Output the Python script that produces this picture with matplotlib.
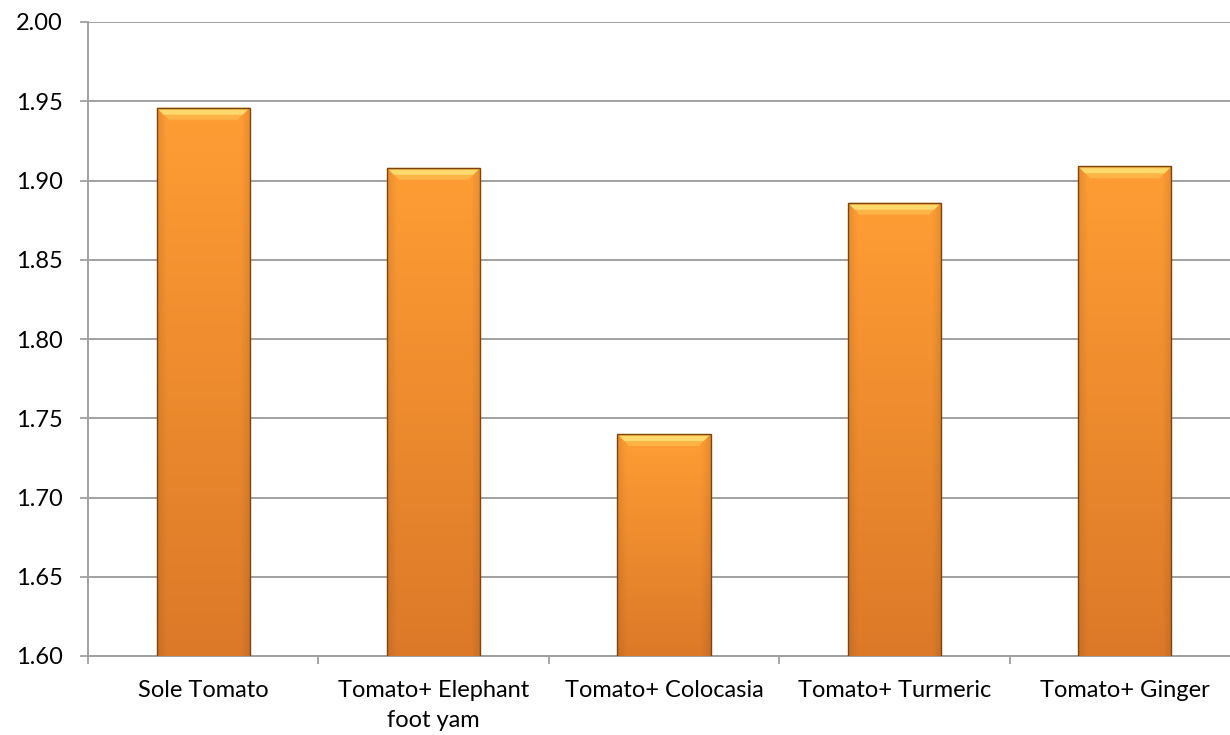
import matplotlib.pyplot as plt
import numpy as np
from matplotlib.patches import Polygon

# values
categories = ["Sole Tomato", "Tomato+ Elephant\nfoot yam", "Tomato+ Colocasia",
              "Tomato+ Turmeric", "Tomato+ Ginger"]
values = [1.946, 1.908, 1.740, 1.886, 1.909]
y_ticks = [1.60, 1.65, 1.70, 1.75, 1.80, 1.85, 1.90, 1.95, 2.00]

plt.rcParams['font.family'] = ['Lato', 'DejaVu Sans']

fig = plt.figure(figsize=(12.3, 7.35), dpi=100)
ax = fig.add_axes([88/1230, 79/735, 1152/1230, 634/735])

x = np.arange(len(categories))
bar_w = 0.405
bars = ax.bar(x, values, width=bar_w, color='none', edgecolor='#7a4412',
              linewidth=1.0, zorder=4)
ax.set_xlim(-0.5, len(categories) - 0.5)
ax.set_ylim(y_ticks[0], y_ticks[-1])

# orange gradient fill for each bar
top_c = np.array([1.0, 0.615, 0.205])
bot_c = np.array([0.86, 0.475, 0.16])
rows, cols = 200, 60
t = np.linspace(0, 1, rows)[:, None, None]
grad = top_c * (1 - t) + bot_c * t
u = np.linspace(-1, 1, cols)[None, :, None]
shade = 1 - 0.09 * np.clip((np.abs(u) - 0.8) / 0.2, 0, 1)
img = np.clip(grad * shade, 0, 1)

ybase = ax.get_ylim()[0]
dy = (y_ticks[-1] - y_ticks[0]) / 634.0   # data units per pixel
dx = (len(categories)) / 1152.0
for b, xi, v in zip(bars, x, values):
    im = ax.imshow(img, extent=(xi - bar_w/2, xi + bar_w/2, ybase, v),
                   aspect='auto', zorder=3, interpolation='bilinear')
    im.set_clip_path(b)
    # bevel on the top of the bar
    bh = 12 * dy
    inset = 12 * dx
    bevel = Polygon([[xi - bar_w/2, v], [xi + bar_w/2, v],
                     [xi + bar_w/2 - inset, v - bh], [xi - bar_w/2 + inset, v - bh]],
                    closed=True, facecolor='#fbb445', edgecolor='none', zorder=3.5)
    ax.add_patch(bevel)
    hl = Polygon([[xi - bar_w/2 + 2*dx, v - 2*dy], [xi + bar_w/2 - 2*dx, v - 2*dy],
                  [xi + bar_w/2 - 7*dx, v - 7*dy], [xi - bar_w/2 + 7*dx, v - 7*dy]],
                 closed=True, facecolor='#ffd96c', edgecolor='none', zorder=3.6)
    ax.add_patch(hl)

ax.set_yticks(y_ticks)
ax.set_yticklabels([f"{v:.2f}" for v in y_ticks])
ax.yaxis.grid(True, color='#a0a0a0', linewidth=1.4)
ax.set_axisbelow(True)

ax.set_xticks(x)
ax.set_xticklabels(categories, linespacing=1.55)
ax.set_xticks(np.arange(-0.5, len(categories)), minor=True)
ax.tick_params(axis='x', which='major', length=0, pad=17, labelsize=17)
ax.tick_params(axis='x', which='minor', length=6, width=1.3, color='#a0a0a0', direction='out')
ax.tick_params(axis='y', length=6, width=1.3, color='#a0a0a0', pad=12, labelsize=17)

for s in ['top', 'right']:
    ax.spines[s].set_visible(False)
for s in ['left', 'bottom']:
    ax.spines[s].set_color('#a0a0a0')
    ax.spines[s].set_linewidth(1.4)

fig.savefig('out.png', dpi=100)
